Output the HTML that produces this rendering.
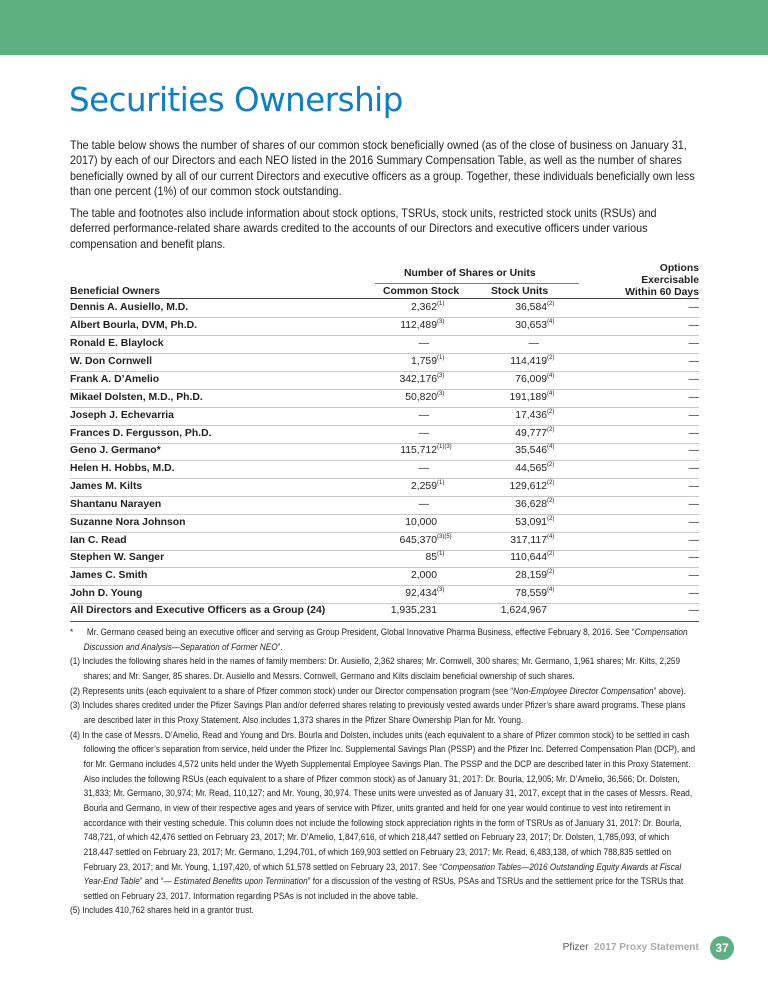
<!DOCTYPE html>
<html><head><meta charset="utf-8"><style>
*{margin:0;padding:0;box-sizing:border-box}
body{width:768px;height:997px;position:relative;background:#fff;font-family:"Liberation Sans",sans-serif;color:#231f20;overflow:hidden}
.bar{position:absolute;left:0;top:0;width:768px;height:55px;background:#5eb083}
h1{position:absolute;left:69px;top:81px;font-family:"DejaVu Sans","Liberation Sans",sans-serif;font-weight:normal;font-size:32.5px;color:#0a80c6;letter-spacing:-0.5px}
.p{position:absolute;left:70px;width:672px;font-size:11.6px;line-height:15.4px;transform:scaleX(.93);transform-origin:0 0}
.r{position:absolute;left:70px;width:629px;height:18px;font-size:10.4px;font-weight:bold;border-bottom:1px solid #c8c8c8}
.r span{position:absolute;top:2px;white-space:nowrap}
.n{font-weight:normal}
.c1{right:262px}.c2{right:152px}.c3{right:0}
sup{font-size:6px;position:absolute;top:-1px;left:100%;font-weight:normal}
.hd{position:absolute;font-size:10.4px;font-weight:bold;white-space:nowrap}
.fn{position:absolute;left:70px;width:735px;font-size:9.6px;line-height:14.65px;transform:scaleX(.855);transform-origin:0 0}
.fn div{padding-left:16px;text-indent:-16px}
.fn i{font-style:italic}
</style></head><body>
<div class="bar"></div>
<h1>Securities Ownership</h1>
<div class="p" style="top:138px">The table below shows the number of shares of our common stock beneficially owned (as of the close of business on January 31, 2017) by each of our Directors and each NEO listed in the 2016 Summary Compensation Table, as well as the number of shares beneficially owned by all of our current Directors and executive officers as a group. Together, these individuals beneficially own less than one percent (1%) of our common stock outstanding.</div>
<div class="p" style="top:206px">The table and footnotes also include information about stock options, TSRUs, stock units, restricted stock units (RSUs) and deferred performance-related share awards credited to the accounts of our Directors and executive officers under various compensation and benefit plans.</div>

<div class="hd" style="left:404px;top:268px">Number of Shares or Units</div>
<div style="position:absolute;left:375px;top:283px;width:204px;height:1px;background:#3a8fd0"></div>
<div class="hd" style="right:69px;top:263px;text-align:right;line-height:12px">Options<br>Exercisable<br>Within 60 Days</div>
<div class="hd" style="left:70px;top:286px">Beneficial Owners</div>
<div class="hd" style="left:383px;top:286px">Common Stock</div>
<div class="hd" style="left:491px;top:286px">Stock Units</div>
<div style="position:absolute;left:70px;top:298px;width:629px;height:1px;background:#444"></div>

<div class="r" style="top:300px"><span>Dennis A. Ausiello, M.D.</span><span class="c1 n">2,362<sup>(1)</sup></span><span class="c2 n">36,584<sup>(2)</sup></span><span class="c3 n">—</span></div>
<div class="r" style="top:318px"><span>Albert Bourla, DVM, Ph.D.</span><span class="c1 n">112,489<sup>(3)</sup></span><span class="c2 n">30,653<sup>(4)</sup></span><span class="c3 n">—</span></div>
<div class="r" style="top:336px"><span>Ronald E. Blaylock</span><span class="c1 n" style="right:270px">—</span><span class="c2 n" style="right:160px">—</span><span class="c3 n">—</span></div>
<div class="r" style="top:354px"><span>W. Don Cornwell</span><span class="c1 n">1,759<sup>(1)</sup></span><span class="c2 n">114,419<sup>(2)</sup></span><span class="c3 n">—</span></div>
<div class="r" style="top:372px"><span>Frank A. D’Amelio</span><span class="c1 n">342,176<sup>(3)</sup></span><span class="c2 n">76,009<sup>(4)</sup></span><span class="c3 n">—</span></div>
<div class="r" style="top:390px"><span>Mikael Dolsten, M.D., Ph.D.</span><span class="c1 n">50,820<sup>(3)</sup></span><span class="c2 n">191,189<sup>(4)</sup></span><span class="c3 n">—</span></div>
<div class="r" style="top:408px"><span>Joseph J. Echevarria</span><span class="c1 n" style="right:270px">—</span><span class="c2 n">17,436<sup>(2)</sup></span><span class="c3 n">—</span></div>
<div class="r" style="top:426px"><span>Frances D. Fergusson, Ph.D.</span><span class="c1 n" style="right:270px">—</span><span class="c2 n">49,777<sup>(2)</sup></span><span class="c3 n">—</span></div>
<div class="r" style="top:443px"><span>Geno J. Germano*</span><span class="c1 n">115,712<sup>(1)(3)</sup></span><span class="c2 n">35,546<sup>(4)</sup></span><span class="c3 n">—</span></div>
<div class="r" style="top:461px"><span>Helen H. Hobbs, M.D.</span><span class="c1 n" style="right:270px">—</span><span class="c2 n">44,565<sup>(2)</sup></span><span class="c3 n">—</span></div>
<div class="r" style="top:479px"><span>James M. Kilts</span><span class="c1 n">2,259<sup>(1)</sup></span><span class="c2 n">129,612<sup>(2)</sup></span><span class="c3 n">—</span></div>
<div class="r" style="top:497px"><span>Shantanu Narayen</span><span class="c1 n" style="right:270px">—</span><span class="c2 n">36,628<sup>(2)</sup></span><span class="c3 n">—</span></div>
<div class="r" style="top:515px"><span>Suzanne Nora Johnson</span><span class="c1 n">10,000</span><span class="c2 n">53,091<sup>(2)</sup></span><span class="c3 n">—</span></div>
<div class="r" style="top:533px"><span>Ian C. Read</span><span class="c1 n">645,370<sup>(3)(5)</sup></span><span class="c2 n">317,117<sup>(4)</sup></span><span class="c3 n">—</span></div>
<div class="r" style="top:550px"><span>Stephen W. Sanger</span><span class="c1 n">85<sup>(1)</sup></span><span class="c2 n">110,644<sup>(2)</sup></span><span class="c3 n">—</span></div>
<div class="r" style="top:568px"><span>James C. Smith</span><span class="c1 n">2,000</span><span class="c2 n">28,159<sup>(2)</sup></span><span class="c3 n">—</span></div>
<div class="r" style="top:586px"><span>John D. Young</span><span class="c1 n">92,434<sup>(3)</sup></span><span class="c2 n">78,559<sup>(4)</sup></span><span class="c3 n">—</span></div>
<div class="r" style="top:603px;height:19px;border-bottom:1.5px solid #555"><span>All Directors and Executive Officers as a Group (24)</span><span class="c1 n">1,935,231</span><span class="c2 n">1,624,967</span><span class="c3 n">—</span></div>

<div class="fn" style="top:626px">
<div>*&nbsp;&nbsp;&nbsp;&nbsp;&nbsp; Mr. Germano ceased being an executive officer and serving as Group President, Global Innovative Pharma Business, effective February 8, 2016. See “<i>Compensation Discussion and Analysis—Separation of Former NEO</i>”.</div>
<div>(1) Includes the following shares held in the names of family members: Dr. Ausiello, 2,362 shares; Mr. Cornwell, 300 shares; Mr. Germano, 1,961 shares; Mr. Kilts, 2,259 shares; and Mr. Sanger, 85 shares. Dr. Ausiello and Messrs. Cornwell, Germano and Kilts disclaim beneficial ownership of such shares.</div>
<div>(2) Represents units (each equivalent to a share of Pfizer common stock) under our Director compensation program (see “<i>Non-Employee Director Compensation</i>” above).</div>
<div>(3) Includes shares credited under the Pfizer Savings Plan and/or deferred shares relating to previously vested awards under Pfizer’s share award programs. These plans are described later in this Proxy Statement. Also includes 1,373 shares in the Pfizer Share Ownership Plan for Mr. Young.</div>
<div>(4) In the case of Messrs. D’Amelio, Read and Young and Drs. Bourla and Dolsten, includes units (each equivalent to a share of Pfizer common stock) to be settled in cash following the officer’s separation from service, held under the Pfizer Inc. Supplemental Savings Plan (PSSP) and the Pfizer Inc. Deferred Compensation Plan (DCP), and for Mr. Germano includes 4,572 units held under the Wyeth Supplemental Employee Savings Plan. The PSSP and the DCP are described later in this Proxy Statement. Also includes the following RSUs (each equivalent to a share of Pfizer common stock) as of January 31, 2017: Dr. Bourla, 12,905; Mr. D’Amelio, 36,566; Dr. Dolsten, 31,833; Mr. Germano, 30,974; Mr. Read, 110,127; and Mr. Young, 30,974. These units were unvested as of January 31, 2017, except that in the cases of Messrs. Read, Bourla and Germano, in view of their respective ages and years of service with Pfizer, units granted and held for one year would continue to vest into retirement in accordance with their vesting schedule. This column does not include the following stock appreciation rights in the form of TSRUs as of January 31, 2017: Dr. Bourla, 748,721, of which 42,476 settled on February 23, 2017; Mr. D’Amelio, 1,847,616, of which 218,447 settled on February 23, 2017; Dr. Dolsten, 1,785,093, of which 218,447 settled on February 23, 2017; Mr. Germano, 1,294,701, of which 169,903 settled on February 23, 2017; Mr. Read, 6,483,138, of which 788,835 settled on February 23, 2017; and Mr. Young, 1,197,420, of which 51,578 settled on February 23, 2017. See “<i>Compensation Tables—2016 Outstanding Equity Awards at Fiscal Year-End Table</i>” and “<i>— Estimated Benefits upon Termination</i>” for a discussion of the vesting of RSUs, PSAs and TSRUs and the settlement price for the TSRUs that settled on February 23, 2017. Information regarding PSAs is not included in the above table.</div>
<div>(5) Includes 410,762 shares held in a grantor trust.</div>
</div>

<div style="position:absolute;right:69px;top:941px;font-size:10.5px;white-space:nowrap;transform:scaleX(.96);transform-origin:100% 0"><span style="color:#555">Pfizer</span>&nbsp; <b style="color:#aaa">2017 Proxy Statement</b></div>
<div style="position:absolute;left:710px;top:936px;width:24px;height:24px;border-radius:50%;background:#5eb083;color:#fff;font-weight:bold;font-size:12px;text-align:center;line-height:24px">37</div>
</body></html>
